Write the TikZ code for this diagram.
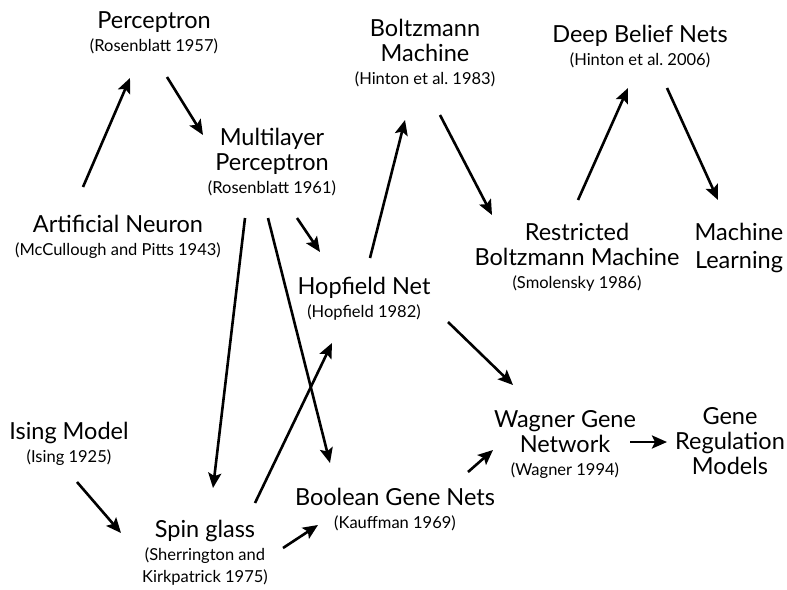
\documentclass[tikz,border=0pt]{standalone}
\usepackage{fontspec}
\setmainfont{Lato}
\usetikzlibrary{arrows.meta}

\newcommand{\yr}[1]{{\fontsize{16.5}{22}\selectfont #1}}
\frenchspacing

\begin{document}
\begin{tikzpicture}[x=1pt, y=-1pt,
  arr/.style={-{Stealth[length=15pt,width=13pt,inset=3pt]}, line width=2.6pt},
  topic/.style={align=center, inner sep=0pt, font=\fontsize{23.5}{25}\selectfont}]
\useasboundingbox (0,0) rectangle (787,589);

% nodes
\node[topic] (pc) at (154,33) {Perceptron\\[-2pt]\yr{(Rosenblatt 1957)}};
\node[topic] (mlp) at (272,162) {Multilayer\\Perceptron\\[-2pt]\yr{(Rosenblatt 1961)}};
\node[topic] (an) at (118,237) {Artificial Neuron\\[-2pt]\yr{(McCullough and Pitts 1943)}};
\node[topic] (hop) at (364,299) {Hopfield Net\\[-2pt]\yr{(Hopfield 1982)}};
\node[topic] (boltz) at (425,53) {Boltzmann\\Machine\\[-2pt]\yr{(Hinton et al. 1983)}};
\node[topic] (dbn) at (640,47) {Deep Belief Nets\\[-2pt]\yr{(Hinton et al. 2006)}};
\node[topic] (rbm) at (577,257) {Restricted\\Boltzmann Machine\\[-2pt]\yr{(Smolensky 1986)}};
\node[topic] (ml) at (739,248) {Machine\\[3pt]Learning};
\node[topic] (ising) at (69,444) {Ising Model\\[-2pt]\yr{(Ising 1925)}};
\node[topic] (spin) at (205,553) {Spin glass\\[-2pt]\yr{(Sherrington and}\\[-3pt]\yr{Kirkpatrick 1975)}};
\node[topic] (bool) at (395,510) {Boolean Gene Nets\\[-2pt]\yr{(Kauffman 1969)}};
\node[topic] (wag) at (565,444) {Wagner Gene\\Network\\[-2pt]\yr{(Wagner 1994)}};
\node[topic] (gr) at (730,441) {Gene\\Regulation\\Models};

% connectors
\draw[arr] ([shift={(-35,-50)}]an.center) -- ([shift={(-24,45)}]pc.center);
\draw[arr] ([shift={(13,44)}]pc.center) -- ([shift={(-69,-27)}]mlp.center);
\draw[arr] ([shift={(25,56)}]mlp.center) -- ([shift={(-44,-47)}]hop.center);
\draw[arr] ([shift={(-27,56)}]mlp.center) -- ([shift={(8,-65)}]spin.center);
\draw[arr] ([shift={(-4,56)}]mlp.center) -- ([shift={(-65,-47)}]bool.center);
\draw[arr] ([shift={(50,-50)}]spin.center) -- ([shift={(-32,44)}]hop.center);
\draw[arr] ([shift={(8,38)}]ising.center) -- ([shift={(-84,-20)}]spin.center);
\draw[arr] ([shift={(78,-5)}]spin.center) -- ([shift={(-77,15)}]bool.center);
\draw[arr] ([shift={(6,-41)}]hop.center) -- ([shift={(-20,67)}]boltz.center);
\draw[arr] ([shift={(15,62)}]boltz.center) -- ([shift={(-85,-42)}]rbm.center);
\draw[arr] ([shift={(1,-57)}]rbm.center) -- ([shift={(-12,41)}]dbn.center);
\draw[arr] ([shift={(27,41)}]dbn.center) -- ([shift={(-21,-48)}]ml.center);
\draw[arr] ([shift={(84,23)}]hop.center) -- ([shift={(-52,-59)}]wag.center);
\draw[arr] ([shift={(73,-38)}]bool.center) -- ([shift={(-72,6)}]wag.center);
\draw[arr] ([shift={(65,-2)}]wag.center) -- ([shift={(-63,1)}]gr.center);
\end{tikzpicture}
\end{document}
